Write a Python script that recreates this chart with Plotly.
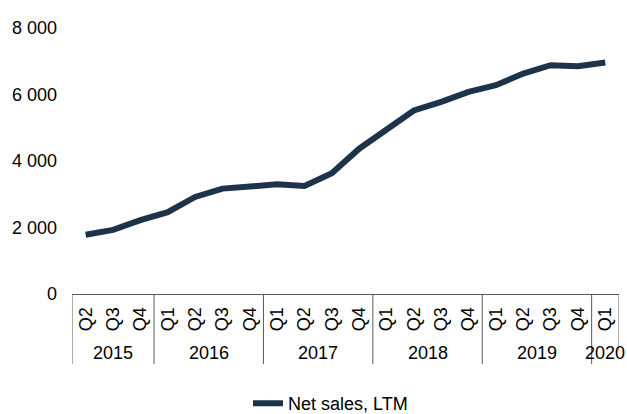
import plotly.graph_objects as go

years = ["2015"] * 3 + ["2016"] * 4 + ["2017"] * 4 + ["2018"] * 4 + ["2019"] * 4 + ["2020"]
quarters = ["Q2", "Q3", "Q4",
            "Q1", "Q2", "Q3", "Q4",
            "Q1", "Q2", "Q3", "Q4",
            "Q1", "Q2", "Q3", "Q4",
            "Q1", "Q2", "Q3", "Q4",
            "Q1"]
net_sales = [1780, 1930, 2220,
             2460, 2920, 3170, 3230,
             3300, 3250, 3630, 4370,
             4960, 5520, 5780, 6080,
             6280, 6630, 6880, 6850,
             6960]
y_ticks = [0, 2000, 4000, 6000, 8000]
y_tick_text = ["0", "2 000", "4 000", "6 000", "8 000"]

FONT = "Liberation Sans, Arial, sans-serif"
LINE_COLOR = "#1c3349"

xs = list(range(len(quarters)))

fig = go.Figure()
fig.add_trace(go.Scatter(
    x=xs, y=net_sales, mode="lines", name="Net sales, LTM",
    line=dict(color=LINE_COLOR, width=6),
))

# group positions
groups = []
start = 0
for i in range(1, len(years) + 1):
    if i == len(years) or years[i] != years[start]:
        groups.append((years[start], start, i - 1))
        start = i

shapes = []
annotations = []
for name, a, b in groups:
    annotations.append(dict(
        x=(a + b) / 2, y=-0.222, xref="x", yref="paper",
        text=name, showarrow=False, yanchor="middle", xanchor="center",
        font=dict(family=FONT, size=18, color="#000000"),
    ))
    shapes.append(dict(type="line", xref="x", yref="paper",
                       x0=a - 0.5, x1=a - 0.5, y0=0, y1=-0.263,
                       line=dict(color="#595959", width=1)))
shapes.append(dict(type="line", xref="x", yref="paper",
                   x0=len(xs) - 0.5, x1=len(xs) - 0.5, y0=0, y1=-0.214,
                   line=dict(color="#595959", width=1)))

fig.update_layout(
    width=627, height=414,
    margin=dict(l=72, r=8, t=28, b=120, autoexpand=False),
    paper_bgcolor="white", plot_bgcolor="white",
    font=dict(family=FONT, size=18, color="#000000"),
    showlegend=True,
    legend=dict(orientation="h", xref="container", yref="container",
                x=0.3955, xanchor="left", y=0.025, yanchor="middle",
                font=dict(family=FONT, size=18, color="#000000"),
                bgcolor="rgba(0,0,0,0)"),
    shapes=shapes,
    annotations=annotations,
    xaxis=dict(
        range=[-0.5, len(xs) - 0.5],
        tickmode="array", tickvals=xs, ticktext=quarters,
        tickangle=-90, showgrid=False, zeroline=False,
        showline=True, linecolor="#595959", linewidth=1,
        ticks="", ticklabelstandoff=5, automargin=False,
        tickfont=dict(family=FONT, size=18, color="#000000"),
    ),
    yaxis=dict(
        range=[0, 8000],
        tickmode="array", tickvals=y_ticks, ticktext=y_tick_text,
        showgrid=False, zeroline=False, showline=False,
        ticks="", ticklabelstandoff=14, automargin=False,
        tickfont=dict(family=FONT, size=18, color="#000000"),
    ),
)

fig.write_html("out.html")
